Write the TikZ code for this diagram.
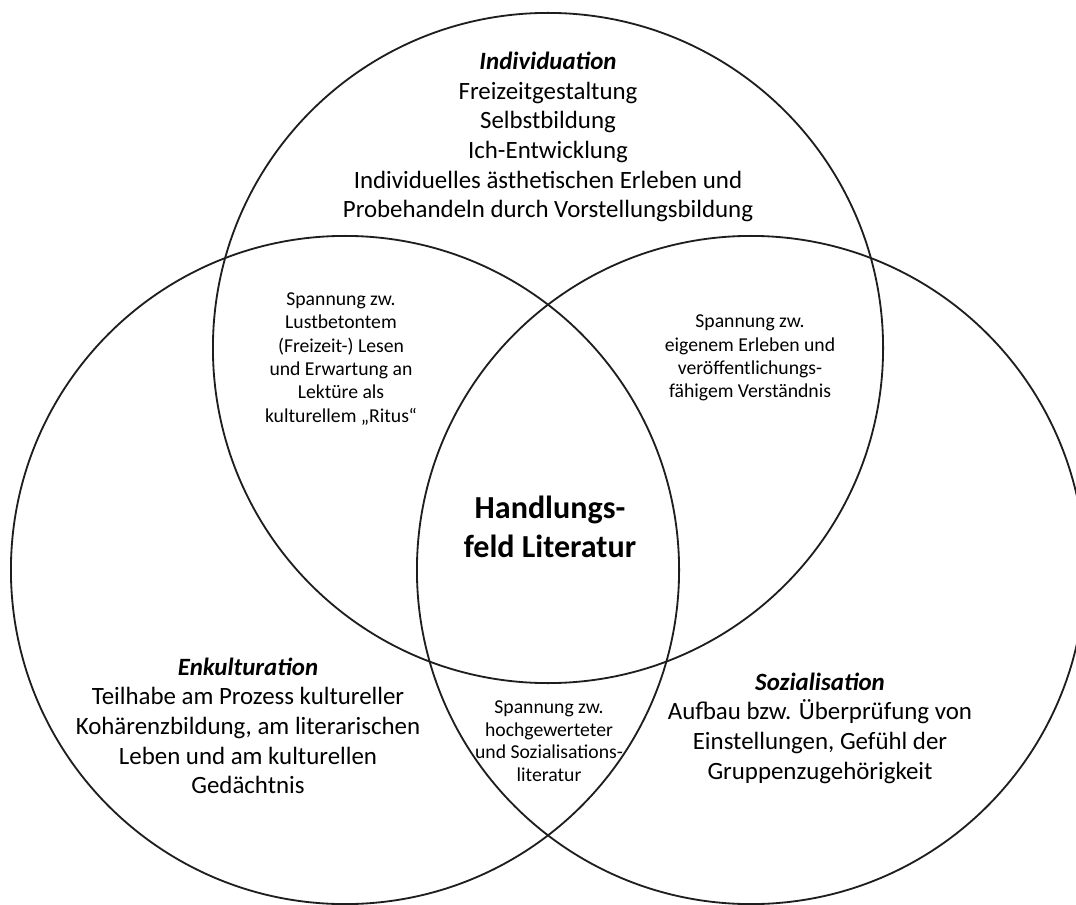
\documentclass[tikz,border=0pt]{standalone}
\usepackage{fontspec}
\setmainfont{Carlito}
\usetikzlibrary{positioning}
\definecolor{ringgray}{RGB}{30, 30, 30}

\begin{document}
\begin{tikzpicture}[
  x=0.025cm, y=-0.025cm,
  ring/.style={draw=ringgray, line width=1.3pt},
  fieldtext/.style={align=center, inner sep=0pt, font=\fontsize{17.7}{21.1}\selectfont},
  lenstext/.style={align=center, inner sep=0pt, font=\fontsize{14}{16.6}\selectfont},
  coretext/.style={align=center, inner sep=0pt, font=\fontsize{22.8}{27.6}\selectfont\bfseries}
]
  \fill[white] (0,0) rectangle (1076,905);
  \useasboundingbox (0,0) rectangle (1076,905);

  % the three fields
  \draw[ring] (548,348) circle[radius=8.375cm];
  \draw[ring] (345,570) circle[radius=8.35cm];
  \draw[ring] (751,570) circle[radius=8.35cm];

  \node[fieldtext] (individ) at (548,137) {
    \textbf{\textit{Individuation}}\\
    Freizeitgestaltung\\
    Selbstbildung\\
    Ich-Entwicklung\\
    Individuelles ästhetischen Erleben und\\
    Probehandeln durch Vorstellungsbildung
  };

  \node[fieldtext] (enkult) at (248,726) {
    \textbf{\textit{Enkulturation}}\\
    Teilhabe am Prozess kultureller\\
    Kohärenzbildung, am literarischen\\
    Leben und am kulturellen\\
    Gedächtnis
  };

  \node[fieldtext] (sozial) at (820,728) {
    \textbf{\textit{Sozialisation}}\\
    Aufbau bzw. Überprüfung von\\
    Einstellungen, Gefühl der\\
    Gruppenzugehörigkeit
  };

  % tensions in the overlaps
  \node[lenstext] (lustlens) at (341,359) {
    Spannung zw.\\
    Lustbetontem\\
    (Freizeit-) Lesen\\
    und Erwartung an\\
    Lektüre als\\
    kulturellem „Ritus“
  };

  \node[lenstext] (erlebenlens) at (750,358) {
    Spannung zw.\\
    eigenem Erleben und\\
    veröffentlichungs-\\
    fähigem Verständnis
  };

  \node[lenstext, font=\fontsize{14}{16.1}\selectfont] (wertlens) at (549,741) {
    Spannung zw.\\
    hochgewerteter\\
    und Sozialisations-\\
    literatur
  };

  \node[coretext] (core) at (550,527) {
    Handlungs-\\
    feld Literatur
  };
\end{tikzpicture}
\end{document}
